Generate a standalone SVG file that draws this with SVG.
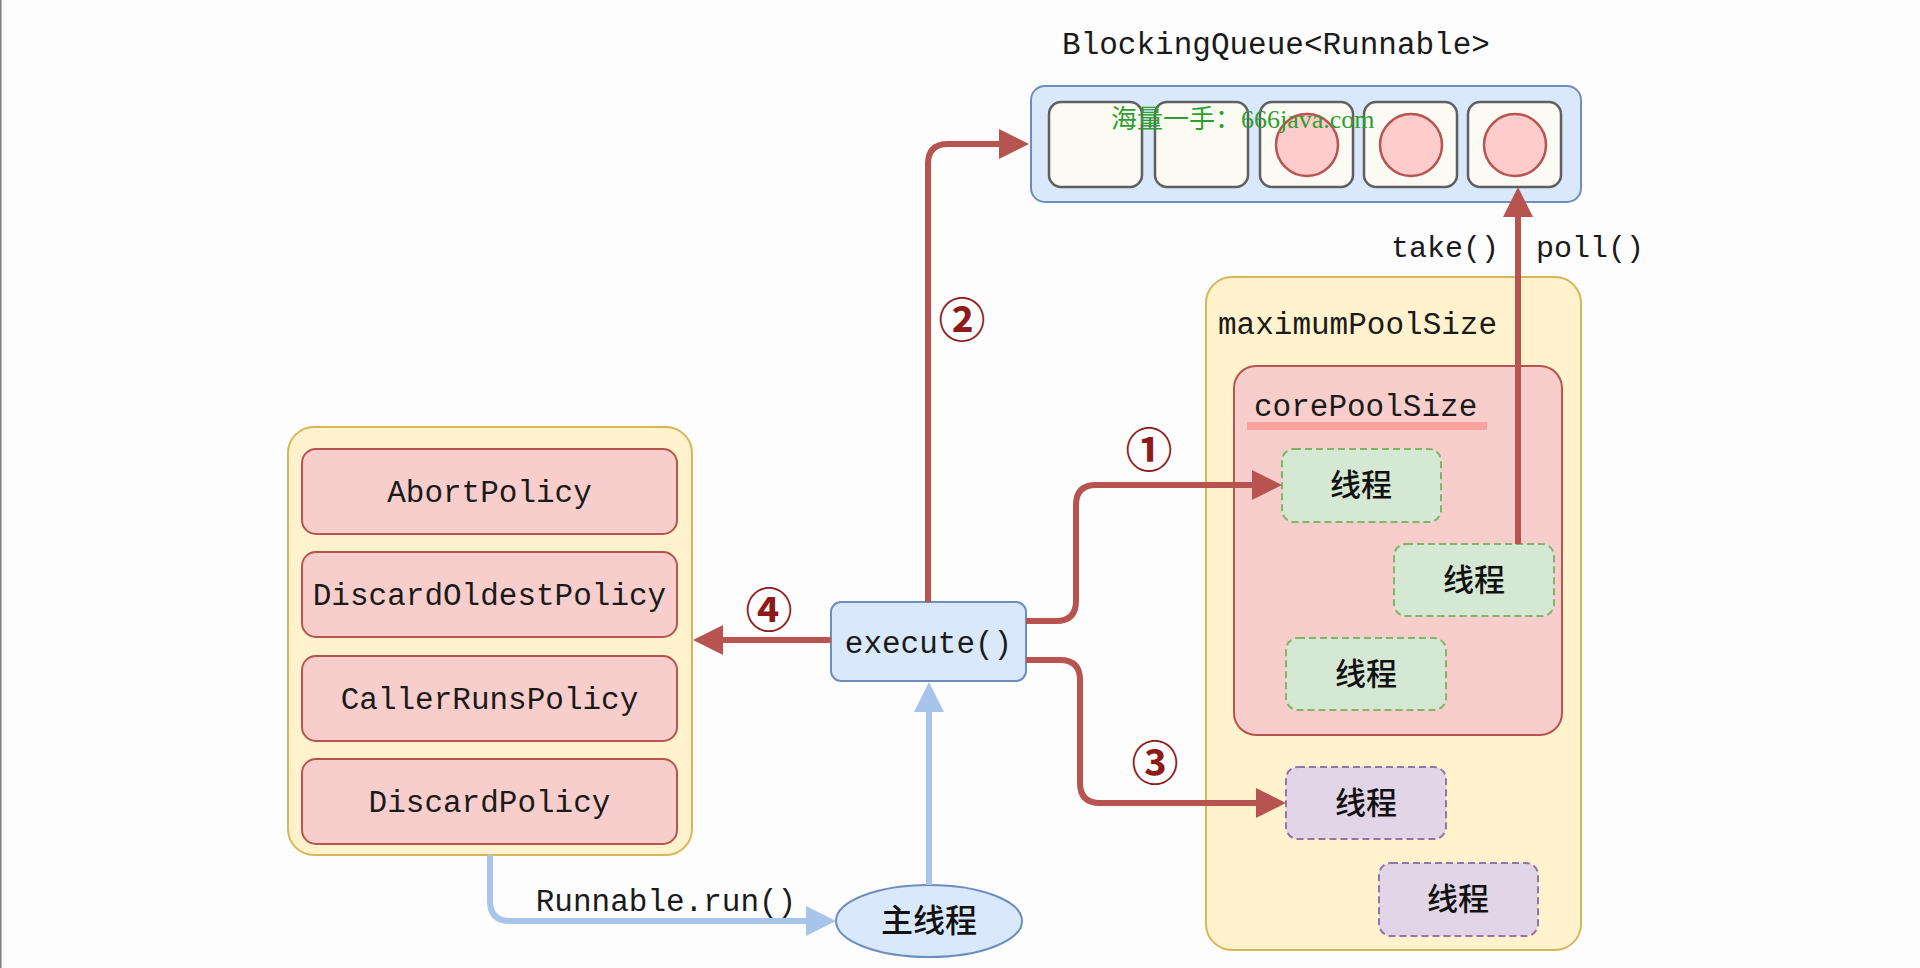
<svg xmlns="http://www.w3.org/2000/svg" width="1920" height="968" viewBox="0 0 1920 968">
<style>
.mono{font-family:"Liberation Mono","DejaVu Sans Mono",monospace;font-size:31px;fill:#1a1a1a}
.cjk{font-family:"Noto Sans CJK SC","Noto Sans",sans-serif;font-size:31px;font-weight:500;fill:#111}
.num{font-family:"Noto Sans CJK SC","DejaVu Sans",sans-serif;font-size:47px;font-weight:bold;fill:#8e1b1b}
.yellow{fill:#fff2cc;stroke:#d6b656;stroke-width:2}
.red{fill:#f8cecc;stroke:#b85450;stroke-width:2}
.blue{fill:#dae8fc;stroke:#6c8ebf;stroke-width:2}
.cell{fill:#fbfbf4;stroke:#5f5f5f;stroke-width:2.5}
.item{fill:#ffcccc;stroke:#b85450;stroke-width:2.5}
.green{fill:#d5e8d4;stroke:#82b366;stroke-width:2;stroke-dasharray:7 4}
.purple{fill:#e1d5e7;stroke:#9673a6;stroke-width:2;stroke-dasharray:7 4}
.rline{fill:none;stroke:#b85450;stroke-width:6}
.bline{fill:none;stroke:#a9c4eb;stroke-width:6}
</style>
<defs>
<marker id="ar" viewBox="0 0 30 30" refX="2" refY="15" markerWidth="30" markerHeight="30" markerUnits="userSpaceOnUse" orient="auto"><path d="M0,0 L30,15 L0,30 z" fill="#b85450"/></marker>
<marker id="ab" viewBox="0 0 30 30" refX="2" refY="15" markerWidth="30" markerHeight="30" markerUnits="userSpaceOnUse" orient="auto"><path d="M0,0 L30,15 L0,30 z" fill="#a9c4eb"/></marker>
</defs>
<rect x="0" y="0" width="1920" height="968" fill="#fdfdfd"/>
<rect x="0" y="0" width="1.5" height="968" fill="#7f7f7f"/>

<g id="queue">
<text class="mono" x="1276" y="43" text-anchor="middle" dy="0.35em">BlockingQueue&lt;Runnable&gt;</text>
<rect class="blue" x="1031" y="86" width="550" height="116" rx="14"/>
<rect class="cell" x="1049" y="102" width="93" height="85" rx="12"/>
<rect class="cell" x="1155" y="102" width="93" height="85" rx="12"/>
<rect class="cell" x="1260" y="102" width="93" height="85" rx="12"/>
<rect class="cell" x="1364" y="102" width="93" height="85" rx="12"/>
<rect class="cell" x="1468" y="102" width="93" height="85" rx="12"/>
<ellipse class="item" cx="1307" cy="145" rx="31" ry="31"/>
<ellipse class="item" cx="1411" cy="145" rx="31" ry="31"/>
<ellipse class="item" cx="1515" cy="145" rx="31" ry="31"/>
</g>

<g id="maxPool">
<rect class="yellow" x="1206" y="277" width="375" height="673" rx="26"/>
<text class="mono" x="1218" y="323" dy="0.35em">maximumPoolSize</text>
</g>
<g id="corePool">
<rect class="red" x="1234" y="366" width="328" height="369" rx="22"/>
<rect x="1247" y="422" width="240" height="8" fill="#f9a19c"/>
<text class="mono" x="1254" y="405" dy="0.35em">corePoolSize</text>
</g>
<g id="thread1"><rect class="green" x="1282" y="449" width="159" height="73" rx="12"/><text class="cjk" x="1361" y="485" text-anchor="middle" dy="0.35em">线程</text></g>
<g id="thread2"><rect class="green" x="1394" y="544" width="160" height="72" rx="12"/><text class="cjk" x="1474" y="580" text-anchor="middle" dy="0.35em">线程</text></g>
<g id="thread3"><rect class="green" x="1286" y="638" width="160" height="72" rx="12"/><text class="cjk" x="1366" y="674" text-anchor="middle" dy="0.35em">线程</text></g>
<g id="thread4"><rect class="purple" x="1286" y="767" width="160" height="72" rx="12"/><text class="cjk" x="1366" y="803" text-anchor="middle" dy="0.35em">线程</text></g>
<g id="thread5"><rect class="purple" x="1379" y="863" width="159" height="73" rx="12"/><text class="cjk" x="1458" y="899" text-anchor="middle" dy="0.35em">线程</text></g>

<g id="policies">
<rect class="yellow" x="288" y="427" width="404" height="428" rx="26"/>
<rect class="red" x="302" y="449" width="375" height="85" rx="14"/>
<text class="mono" x="489.5" y="491.5" text-anchor="middle" dy="0.35em">AbortPolicy</text>
<rect class="red" x="302" y="552" width="375" height="85" rx="14"/>
<text class="mono" x="489.5" y="594.5" text-anchor="middle" dy="0.35em">DiscardOldestPolicy</text>
<rect class="red" x="302" y="656" width="375" height="85" rx="14"/>
<text class="mono" x="489.5" y="698.5" text-anchor="middle" dy="0.35em">CallerRunsPolicy</text>
<rect class="red" x="302" y="759" width="375" height="85" rx="14"/>
<text class="mono" x="489.5" y="801.5" text-anchor="middle" dy="0.35em">DiscardPolicy</text>
</g>

<g id="execute">
<rect class="blue" x="831" y="602" width="195" height="79" rx="10"/>
<text class="mono" x="928.5" y="642" text-anchor="middle" dy="0.35em">execute()</text>
</g>

<g id="mainThread">
<ellipse class="blue" cx="929" cy="921" rx="93" ry="36"/>
<text class="cjk" x="929" y="921" text-anchor="middle" dy="0.35em" style="font-size:32px">主线程</text>
</g>

<g id="connectors">
<path class="rline" d="M928 602 L928 164 Q928 144 948 144 L1001 144" marker-end="url(#ar)"/>
<path class="rline" d="M1026 621 L1056 621 Q1076 621 1076 601 L1076 505 Q1076 485 1096 485 L1254 485" marker-end="url(#ar)"/>
<path class="rline" d="M1026 660 L1060 660 Q1080 660 1080 680 L1080 783 Q1080 803 1100 803 L1258 803" marker-end="url(#ar)"/>
<path class="rline" d="M831 640 L721 640" marker-end="url(#ar)"/>
<path class="rline" d="M1518 544 L1518 215" marker-end="url(#ar)"/>
<path class="bline" d="M490 855 L490 901 Q490 921 510 921 L808 921" marker-end="url(#ab)"/>
<path class="bline" d="M929 885 L929 710" marker-end="url(#ab)"/>
<text class="mono" x="666" y="900" text-anchor="middle" dy="0.35em">Runnable.run()</text>
<text class="mono" x="1445" y="246" text-anchor="middle" dy="0.35em" style="font-size:30px">take()</text>
<text class="mono" x="1590" y="246" text-anchor="middle" dy="0.35em" style="font-size:30px">poll()</text>
<text class="num" x="962" y="321" text-anchor="middle" dy="0.35em">②</text>
<text class="num" x="1149" y="451" text-anchor="middle" dy="0.35em">①</text>
<text class="num" x="1155" y="764" text-anchor="middle" dy="0.35em">③</text>
<text class="num" x="769" y="611" text-anchor="middle" dy="0.35em">④</text>
</g>

<text x="1111" y="128" style="font-family:'Liberation Serif','Noto Sans CJK SC',serif;font-size:26px;fill:#2e9e2e">海量一手：666java.com</text>
</svg>
